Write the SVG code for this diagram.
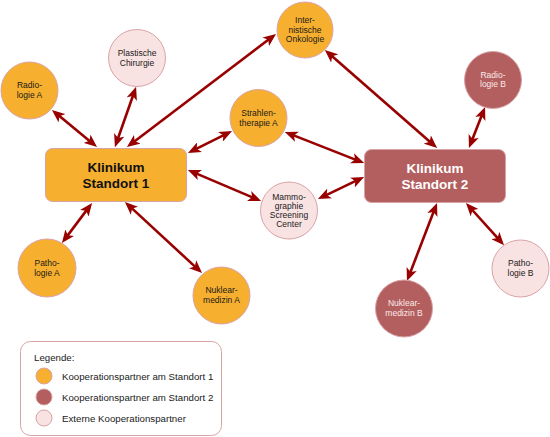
<svg xmlns="http://www.w3.org/2000/svg" width="550" height="437" viewBox="0 0 550 437">
<style>
.o{fill:#F6AF2E;stroke:#D9A3A6;stroke-width:1}
.r{fill:#B35F5F;stroke:#D9A3A6;stroke-width:1}
.p{fill:#F9E2E2;stroke:#D9A3A6;stroke-width:1}
.t{font-family:"Liberation Sans",Arial,sans-serif;font-size:8.5px;fill:#1a1a1a;text-anchor:middle}
.tw{fill:#FBEAEA}
.k{font-family:"Liberation Sans",Arial,sans-serif;font-size:13.5px;font-weight:bold;text-anchor:middle}
.l{font-family:"Liberation Sans",Arial,sans-serif;font-size:9.7px;fill:#1a1a1a}
.c line{stroke:#990000;stroke-width:2.6;marker-start:url(#a);marker-end:url(#a)}
</style>
<defs>
<marker id="a" viewBox="0 0 12 10" refX="4.5" refY="5" markerWidth="13" markerHeight="11" markerUnits="userSpaceOnUse" orient="auto-start-reverse">
<path d="M0,0 L12,5 L0,10 L3,5 z" fill="#990000"/>
</marker>
</defs>
<rect width="550" height="437" fill="#fff"/>
<g id="connectors" class="c">
<line x1="58.2" y1="115.1" x2="90.8" y2="141.9"/>
<line x1="133.4" y1="94.5" x2="117.6" y2="139.5"/>
<line x1="133.4" y1="142.2" x2="269.6" y2="38.8"/>
<line x1="195.2" y1="149.4" x2="224.8" y2="134.6"/>
<line x1="195.4" y1="173.1" x2="253.6" y2="197.9"/>
<line x1="87.2" y1="209.4" x2="66.8" y2="236.6"/>
<line x1="130.9" y1="207.4" x2="196.1" y2="267.6"/>
<line x1="331" y1="55.3" x2="431" y2="142.7"/>
<line x1="292.4" y1="134.9" x2="356.6" y2="160.1"/>
<line x1="325.2" y1="195.6" x2="356.8" y2="180.4"/>
<line x1="482.1" y1="114.5" x2="471.9" y2="140.5"/>
<line x1="434.1" y1="210.5" x2="409.9" y2="273.5"/>
<line x1="471.4" y1="209" x2="498.6" y2="239.1"/>
</g>
<g id="klinikum1">
<rect class="o" x="45.5" y="148.5" width="141" height="53" rx="7"/>
<text class="k" x="116" y="172" fill="#111">Klinikum</text>
<text class="k" x="116" y="188" fill="#111">Standort 1</text>
</g>
<g id="klinikum2">
<rect class="r" x="364.5" y="149.5" width="141" height="53" rx="7"/>
<text class="k" x="435" y="173" fill="#fff">Klinikum</text>
<text class="k" x="435" y="189" fill="#fff">Standort 2</text>
</g>
<g id="radiologieA">
<circle class="o" cx="29.5" cy="90.5" r="28.5"/>
<text class="t" x="29.5" y="88">Radio-</text>
<text class="t" x="29.5" y="97.5">logie A</text>
</g>
<g id="plastische">
<circle class="p" cx="137" cy="58" r="28.5"/>
<text class="t" x="137" y="56">Plastische</text>
<text class="t" x="137" y="65.5">Chirurgie</text>
</g>
<g id="onkologie">
<circle class="o" cx="305" cy="30" r="28"/>
<text class="t" x="305" y="23">Inter-</text>
<text class="t" x="305" y="32.5">nistische</text>
<text class="t" x="305" y="42">Onkologie</text>
</g>
<g id="strahlen">
<circle class="o" cx="258.5" cy="118" r="28.5"/>
<text class="t" x="258.5" y="116">Strahlen-</text>
<text class="t" x="258.5" y="125.5">therapie A</text>
</g>
<g id="radiologieB">
<circle class="r" cx="493" cy="80" r="28.5"/>
<text class="t tw" x="493" y="77.5">Radio-</text>
<text class="t tw" x="493" y="87">logie B</text>
</g>
<g id="mammo">
<circle class="p" cx="289" cy="210.5" r="28.5"/>
<text class="t" x="289" y="199.5">Mammo-</text>
<text class="t" x="289" y="208.5">graphie</text>
<text class="t" x="289" y="217.5">Screening</text>
<text class="t" x="289" y="226.5">Center</text>
</g>
<g id="pathologieA">
<circle class="o" cx="47" cy="268" r="29"/>
<text class="t" x="47" y="266">Patho-</text>
<text class="t" x="47" y="275.5">logie A</text>
</g>
<g id="nuklearA">
<circle class="o" cx="221.5" cy="295.5" r="28.5"/>
<text class="t" x="221.5" y="293">Nuklear-</text>
<text class="t" x="221.5" y="302.5">medizin A</text>
</g>
<g id="nuklearB">
<circle class="r" cx="404" cy="308.5" r="28.5"/>
<text class="t tw" x="404" y="306">Nuklear-</text>
<text class="t tw" x="404" y="315.5">medizin B</text>
</g>
<g id="pathologieB">
<circle class="p" cx="520.5" cy="268.5" r="28.5"/>
<text class="t" x="520.5" y="266">Patho-</text>
<text class="t" x="520.5" y="275.5">logie B</text>
</g>
<g id="legende">
<rect x="20.5" y="341.5" width="201" height="94" rx="10" fill="#fff" stroke="#D9A3A6"/>
<text class="l" x="34" y="361">Legende:</text>
<circle class="o" cx="44" cy="376" r="8"/>
<text class="l" x="62" y="380">Kooperationspartner am Standort 1</text>
<circle class="r" cx="44" cy="397" r="8"/>
<text class="l" x="62" y="401">Kooperationspartner am Standort 2</text>
<circle class="p" cx="44" cy="418" r="8"/>
<text class="l" x="62" y="422">Externe Kooperationspartner</text>
</g>
</svg>
